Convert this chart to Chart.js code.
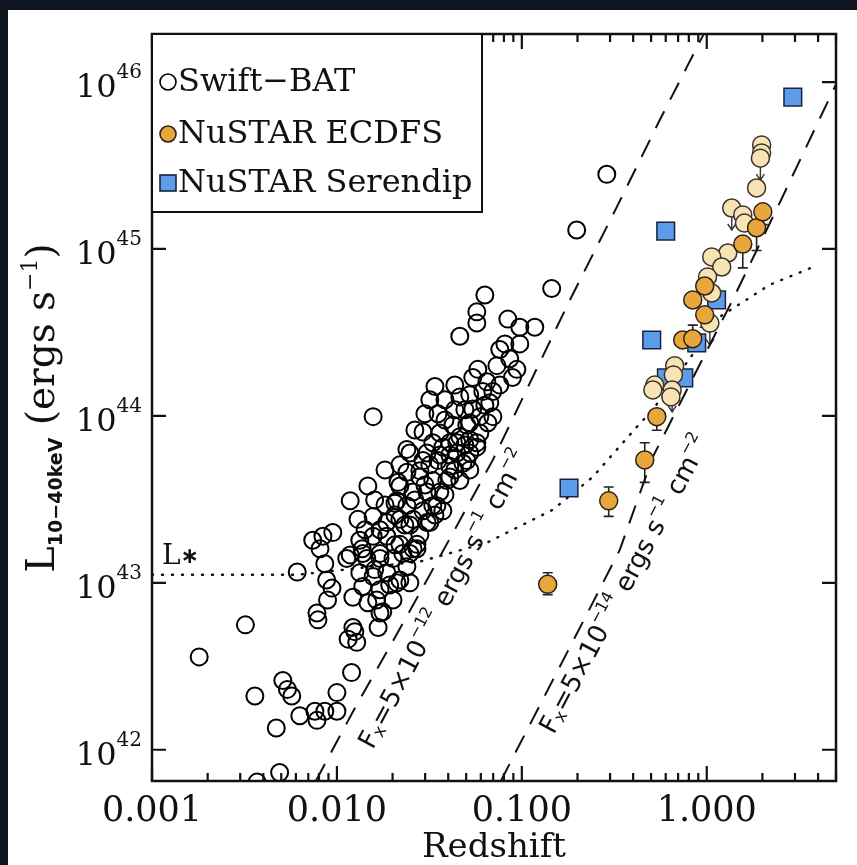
<!DOCTYPE html>
<html><head><meta charset="utf-8">
<script src="https://cdn.jsdelivr.net/npm/chart.js@4.4.1/dist/chart.umd.min.js"></script>
<style>html,body{margin:0;padding:0;background:#0e1520;overflow:hidden}canvas{display:block}</style>
</head><body><canvas id="c" width="857" height="865"></canvas>
<script>
// ---------- data ----------
const swiftZ = [0.0631,0.0571,0.0571,0.0462,0.084,0.0975,0.1175,0.081,0.0975,0.086,0.094,0.089,0.145,0.198,0.288,
0.0339,0.0462,0.0578,0.0543,0.0647,0.0615,0.0697,0.0671,0.0543,0.0593,0.0697,0.0523,0.0593,0.0571,0.0157,
0.0299,0.0352,0.0292,0.0424,0.036,0.033,0.0408,0.0462,0.0445,0.0523,0.0248,0.0292,0.0352,0.0408,0.048,
0.0239,0.0281,0.033,0.0393,0.0462,0.0147,0.0219,0.0258,0.0307,0.036,0.0118,0.0206,0.0239,0.0292,0.033,
0.0374,0.013,0.0157,0.0186,0.0219,0.0258,0.0307,0.0074,0.0084,0.0095,0.0081,0.0133,0.0157,0.0186,0.0219,
0.0258,0.0113,0.0145,0.0171,0.0201,0.0239,0.0061,0.0086,0.0133,0.0157,0.0186,0.0219,0.0248,0.0088,0.0138,
0.0171,0.0032,0.0018,0.0036,0.0047,0.0051,0.0054,0.0057,0.0063,0.0076,0.0078,0.0086,0.010,0.010,0.012,
0.0115,0.0125,0.0128,0.0078,0.0079,0.0089,0.0094,0.0122,0.0164,0.0171,0.0167,0.0211,0.0049,0.0037,0.0137,
0.0227,0.0271,0.0201,0.0177,0.0147,0.0239,0.0307,0.0374,0.0504,0.0655,0.0281,0.0408,0.0214,0.0211,0.0347,
0.0318,0.0271,0.0138,0.0171,0.0248,0.0122,0.0445,0.0523,0.0571,0.0504,0.0384,0.0434,0.076,0.0733,
0.0182,0.0264,0.0384,0.0434,0.0318,0.0523,0.0233,0.0339,0.0408,0.0492,0.036,0.0171,0.0206,0.0281,0.016,
0.0193,0.0206,0.0299,0.0384,0.0492,0.0631,0.076,0.0434,0.0523,0.0318,0.0264,0.0219,0.016,0.0142,0.0118,
0.0248,0.0182];
const swiftL = [5.3e44,4.2e44,3.6e44,3.0e44,3.8e44,3.4e44,3.4e44,2.7e44,2.7e44,2.2e44,1.9e44,1.7e44,5.8e44,1.3e45,2.8e45,
1.5e44,1.3e44,1.9e44,1.7e44,1.6e44,1.4e44,1.4e44,1.2e44,1.1e44,9.9e43,9.9e43,9.1e43,7.9e43,6.9e43,9.9e43,
1.03e44,1.03e44,8.0e43,8.8e43,7.9e43,6.9e43,6.9e43,7.5e43,6.0e43,6.0e43,6.0e43,5.4e43,5.4e43,5.0e43,5.2e43,
4.6e43,4.3e43,4.1e43,4.1e43,4.1e43,3.8e43,3.8e43,3.5e43,3.5e43,3.5e43,3.1e43,3.0e43,2.9e43,2.7e43,2.9e43,
2.7e43,2.4e43,2.5e43,2.3e43,2.4e43,2.4e43,2.3e43,1.8e43,1.9e43,2.0e43,1.6e43,1.8e43,1.9e43,1.9e43,1.7e43,
1.6e43,1.4e43,1.4e43,1.4e43,1.4e43,1.25e43,1.16e43,1.3e43,1.15e43,1.09e43,1.15e43,1.04e43,1.0e43,1.04e43,9.5e42,
9.1e42,5.6e42,3.6e42,2.1e42,1.35e42,2.6e42,2.3e42,2.1e42,1.6e42,1.7e42,1.5e42,1.7e42,1.7e42,2.2e42,2.9e42,
4.6e42,5.1e42,4.4e42,6.6e42,6.0e42,7.9e42,9.3e42,8.2e42,7.9e42,6.6e42,5.4e42,1.0e43,7.3e41,6.4e41,1.6e43,
1.5e43,1.6e43,7.9e42,6.7e42,7.6e42,6.3e43,6.0e43,6.5e43,8.8e43,9.1e43,4.7e43,4.3e43,4.0e43,3.1e43,2.9e43,
2.3e43,1.7e43,1.5e43,1.5e43,1.5e43,5.4e42,6.9e43,7.2e43,6.5e43,5.4e43,1.25e44,1.09e44,2.5e44,2.0e44,
2.93e43,3.14e43,3.37e43,4.75e43,5.09e43,4.75e43,2.22e43,2.55e43,5.84e43,6.7e43,5.84e43,2.08e43,1.69e43,1.94e43,1.2e43,
9.7e42,2.55e43,3.86e43,9.46e43,1.09e44,1.16e44,1.53e44,1.53e44,1.34e44,1.25e44,8.24e43,5.09e43,3.14e43,2.08e43,1.47e43,
2.22e43,4.75e43];

const ecdfsZ  = [0.138,0.295,0.462,0.537,0.741,0.84,0.975,0.84,0.975,1.566,1.86,2.01];
const ecdfsL  = [9.8e42,3.1e43,5.45e43,9.9e43,2.85e44,2.9e44,4.03e44,4.95e44,6.0e44,1.07e45,1.34e45,1.67e45];
const ecdfsLo = [8.5e42,2.5e43,4.0e43,8.2e43,null,null,3.4e44,null,null,7.7e44,9.8e44,1.4e45];
const ecdfsHi = [1.15e43,3.75e43,6.9e43,null,null,3.5e44,null,null,null,null,null,null];

const otherZ  = [1.98,1.98,1.95,1.86,1.365,1.566,1.6,1.30,1.064,1.205,1.01,1.064,1.04,0.671,0.523,0.66,0.511,0.65,0.64];
const otherL  = [4.2e45,3.76e45,3.5e45,2.32e45,1.76e45,1.6e45,1.43e45,9.46e44,8.96e44,7.8e44,6.8e44,5.45e44,3.6e44,2.0e44,1.53e44,1.76e44,1.43e44,1.43e44,1.3e44];
const otherUL = [0,0,1,0,1,0,0,0,0,0,0,0,1,0,0,0,0,1,0];

const serZ = [2.92,0.60,0.504,0.18,0.605,0.751,0.883,1.13];
const serL = [8.13e45,1.28e45,2.85e44,3.7e43,1.69e44,1.69e44,2.74e44,4.95e44];

const flux12Z = [0.0077,0.0122,0.0233,0.0424,0.0697,0.1146,0.182,0.326,0.557,0.963];
const flux12L = [6.52e41,1.69e42,6.0e42,1.99e43,5.45e43,1.71e44,4.95e44,1.78e45,5.92e45,1.94e46];
const flux14Z = [0.077,0.094,0.214,0.339,0.511,0.78,1.38,2.48,4.98];
const flux14L = [6.5e41,1.0e42,5.84e42,1.58e43,5.68e43,1.43e44,4.95e44,1.89e45,9.6e45];
const lstarZ = [0.001,0.0061,0.0281,0.0647,0.147,0.242,0.419,0.511,1.175,2.19,3.98];
const lstarL = [1.117e43,1.117e43,1.34e43,1.74e43,2.74e43,4.31e43,8.6e43,1.09e44,3.92e44,6.1e44,8.0e44];

const xTicks = [0.001,0.01,0.1,1];
const xTickLabels = ['0.001','0.010','0.100','1.000'];
const yTicks = [1e42,1e43,1e44,1e45,1e46];
const yTickExp = ['42','43','44','45','46'];

const pts = (zs, ls) => zs.map((z,i)=>({x:z,y:ls[i]}));

// ---------- drawing helpers ----------
function richWidth(ctx, parts){let w=0;for(const p of parts){ctx.font=p.f;w+=ctx.measureText(p.t).width;}return w;}
function drawRich(ctx, parts, x, y, align){
  let w=richWidth(ctx,parts);
  let cx = align==='center'? x-w/2 : align==='right'? x-w : x;
  for(const p of parts){ctx.font=p.f;ctx.fillText(p.t,cx,y+(p.dy||0));cx+=ctx.measureText(p.t).width;}
}
const SERIF='"DejaVu Serif", serif';
const SANS='"DejaVu Sans", sans-serif';

const deco = {
  id:'deco',
  beforeDraw(chart){
    const c=chart.ctx;c.save();
    c.fillStyle='#0e1520';c.fillRect(0,0,857,865);
    c.fillStyle='#ffffff';c.fillRect(8,10,849,855);
    c.restore();
  },
  beforeDatasetsDraw(chart){
    const c=chart.ctx,xs=chart.scales.x,ys=chart.scales.y;
    c.save();c.strokeStyle='#2a2118';c.lineWidth=1.6;
    ecdfsZ.forEach((z,i)=>{
      const px=xs.getPixelForValue(z),py=ys.getPixelForValue(ecdfsL[i]);
      const lo=ecdfsLo[i],hi=ecdfsHi[i];
      c.beginPath();
      if(lo!==null){const pl=ys.getPixelForValue(lo);c.moveTo(px,py);c.lineTo(px,pl);c.moveTo(px-5,pl);c.lineTo(px+5,pl);}
      if(hi!==null){const ph=ys.getPixelForValue(hi);c.moveTo(px,py);c.lineTo(px,ph);c.moveTo(px-5,ph);c.lineTo(px+5,ph);}
      c.stroke();
    });
    c.strokeStyle='#333';c.lineWidth=1.4;
    otherZ.forEach((z,i)=>{
      if(!otherUL[i])return;
      const px=xs.getPixelForValue(z),py=ys.getPixelForValue(otherL[i]);
      c.beginPath();c.moveTo(px,py);c.lineTo(px,py+22);c.moveTo(px-4,py+16);c.lineTo(px,py+22);c.lineTo(px+4,py+16);c.stroke();
    });
    c.restore();
  },
  afterDraw(chart){
    const c=chart.ctx,xs=chart.scales.x,ys=chart.scales.y,a=chart.chartArea;
    c.save();
    c.strokeStyle='#111';c.lineWidth=2.2;
    // ticks
    c.beginPath();
    for(let d=-3;d<=0;d++){
      for(let k=1;k<=9;k++){
        const v=k*Math.pow(10,d); if(v>xs.max+1e-9) break;
        const px=xs.getPixelForValue(v); const len=(k===1)?15:8;
        c.moveTo(px,a.bottom);c.lineTo(px,a.bottom-len);
        c.moveTo(px,a.top);c.lineTo(px,a.top+len);
      }
    }
    yTicks.forEach(v=>{const py=ys.getPixelForValue(v);c.moveTo(a.left,py);c.lineTo(a.left+14,py);c.moveTo(a.right,py);c.lineTo(a.right-14,py);});
    c.stroke();
    c.lineWidth=2.5;c.strokeRect(a.left,a.top,a.right-a.left,a.bottom-a.top);
    // tick labels
    c.fillStyle='#111';c.textBaseline='alphabetic';
    c.font='35px '+SERIF;c.textAlign='center';
    xTicks.forEach((v,i)=>{c.fillText(xTickLabels[i],xs.getPixelForValue(v),821);});
    c.textAlign='left';
    yTicks.forEach((v,i)=>{const py=ys.getPixelForValue(v);
      drawRich(c,[{t:'10',f:'32px '+SERIF,dy:15},{t:yTickExp[i],f:'20px '+SERIF,dy:-4}],142,py,'right');});
    // axis titles
    drawRich(c,[{t:'Redshift',f:'34px '+SERIF}],494,857,'center');
    c.save();c.translate(54,408);c.rotate(-Math.PI/2);
    drawRich(c,[{t:'L',f:'40px '+SERIF},{t:'10\u221240keV',f:'bold 19px '+SANS,dy:8},{t:' (ergs s',f:'39px '+SERIF},{t:'\u22121',f:'22px '+SERIF,dy:-17},{t:')',f:'39px '+SERIF}],0,0,'center');
    c.restore();
    // L* label
    drawRich(c,[{t:'L',f:'28px '+SERIF},{t:'\u2217',f:'bold 22px '+SANS,dy:-1}],162,564,'left');
    // flux labels
    const ang=-62*Math.PI/180;
    [[445,600,'\u221212'],[626,585,'\u221214']].forEach(([cx,cy,e])=>{
      c.save();c.translate(cx,cy);c.rotate(ang);c.textBaseline='middle';
      drawRich(c,[{t:'F',f:'26px '+SANS},{t:'x',f:'17px '+SANS,dy:5},{t:'=5\u00d710',f:'26px '+SANS},{t:e,f:'16px '+SANS,dy:-10},
        {t:' ergs s',f:'26px '+SANS},{t:'\u22121',f:'16px '+SANS,dy:-10},{t:' cm',f:'26px '+SANS},{t:'\u22122',f:'16px '+SANS,dy:-10}],0,0,'center');
      c.restore();
    });
    // legend
    c.textBaseline='middle';
    c.fillStyle='#fff';c.fillRect(a.left,a.top,330,178);
    c.lineWidth=2;c.strokeStyle='#111';c.strokeRect(a.left,a.top,330,178);
    const ds=chart.data.datasets;
    const rows=[[3,82],[0,134],[2,183]];
    rows.forEach(([di,y])=>{
      const d=ds[di];
      c.lineWidth=1.6;c.strokeStyle=d.borderColor;c.fillStyle=d.backgroundColor;
      if(d.pointStyle==='rect'){c.fillRect(160,y-8,16,16);c.strokeRect(160,y-8,16,16);}
      else {c.beginPath();c.arc(168,y,8,0,Math.PI*2);c.fill();c.stroke();}
      c.fillStyle='#111';c.font='32px '+SERIF;c.textAlign='left';c.fillText(d.label,178,y+1);
    });
    c.restore();
  }
};

new Chart(document.getElementById('c'),{
  type:'scatter',
  data:{datasets:[
    {label:'NuSTAR ECDFS',data:pts(ecdfsZ,ecdfsL),pointRadius:9,backgroundColor:'#E9A63C',borderColor:'#2a2118',borderWidth:1.5,order:1},
    {label:'NuSTAR other',data:pts(otherZ,otherL),pointRadius:9,backgroundColor:'#F7E3B6',borderColor:'#3a3328',borderWidth:1.5,order:2},
    {label:'NuSTAR Serendip',data:pts(serZ,serL),pointStyle:'rect',pointRadius:12.5,backgroundColor:'#5C9CEB',borderColor:'#17243d',borderWidth:1.5,order:3},
    {label:'Swift\u2212BAT',data:pts(swiftZ,swiftL),pointRadius:8.5,backgroundColor:'rgba(255,255,255,0)',borderColor:'#000',borderWidth:2,order:4,clip:0},
    {label:'f12',data:pts(flux12Z,flux12L),showLine:true,pointRadius:0,borderColor:'#111',borderWidth:2,borderDash:[19,13],order:5,clip:0},
    {label:'f14',data:pts(flux14Z,flux14L),showLine:true,pointRadius:0,borderColor:'#111',borderWidth:2,borderDash:[19,13],order:6,clip:0},
    {label:'lstar',data:pts(lstarZ,lstarL),showLine:true,pointRadius:0,borderColor:'#111',borderWidth:2.4,borderDash:[1,9],borderCapStyle:'round',order:7,clip:0}
  ]},
  options:{
    responsive:false,devicePixelRatio:1,animation:false,events:[],
    layout:{padding:{left:0,right:21,top:34,bottom:0}},
    plugins:{legend:{display:false},tooltip:{enabled:false}},
    scales:{
      x:{type:'logarithmic',min:0.001,max:5,grid:{display:false},border:{display:false},ticks:{display:false},afterFit(s){s.height=84;}},
      y:{type:'logarithmic',min:6.5e41,max:1.94e46,grid:{display:false},border:{display:false},ticks:{display:false},afterFit(s){s.width=152;}}
    }
  },
  plugins:[deco]
});
</script></body></html>
